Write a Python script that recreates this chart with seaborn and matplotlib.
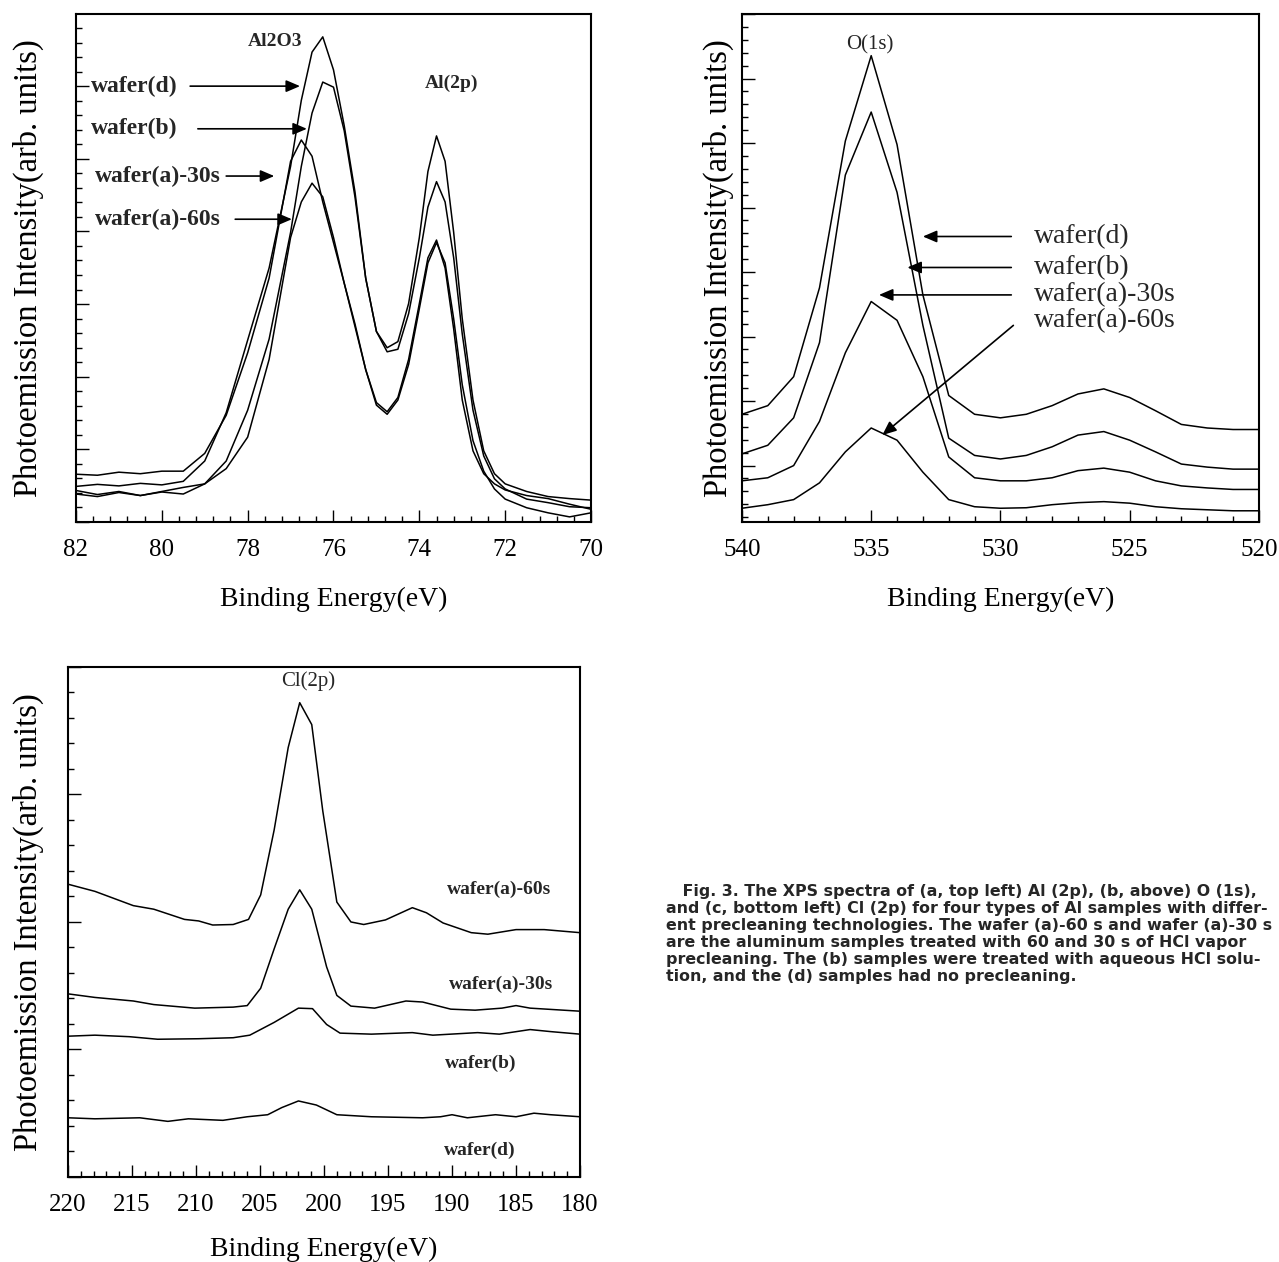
import numpy as np
import pandas as pd
import matplotlib
matplotlib.use("Agg")
import matplotlib.pyplot as plt
from matplotlib.ticker import MultipleLocator, AutoMinorLocator, FixedLocator
import seaborn as sns

# ---- (a) Al(2p) spectra, binding energy in eV, intensity in arb. units (0-100)
al_energy = [82.0, 81.5, 81.0, 80.5, 80.0, 79.5, 79.0, 78.5, 78.0, 77.5, 77.0, 76.75,
             76.5, 76.25, 76.0, 75.75, 75.5, 75.25, 75.0, 74.75, 74.5, 74.25, 74.0,
             73.8, 73.6, 73.4, 73.2, 73.0, 72.75, 72.5, 72.25, 72.0, 71.5, 71.0, 70.5, 70.0]
al_wafer_d = [7.0, 7.4, 7.1, 7.6, 7.3, 8.0, 12.0, 21.5, 35.8, 50, 70, 83,
              92.5, 95.5, 89, 78, 65, 48, 37.5, 34.3, 35.5, 43, 56,
              69, 76, 71, 57, 40, 24, 14, 9.5, 7.5, 6.0, 5.0, 4.6, 4.3]
al_wafer_b = [5.5, 5.0, 5.8, 5.2, 5.9, 5.5, 7.5, 12, 22, 36, 57, 70,
              80.5, 86.6, 85.6, 77, 64, 48, 37.5, 33.5, 34, 41, 52,
              62, 67, 63, 52, 37, 22, 13, 8.5, 6.5, 4.5, 3.8, 3.0, 2.8]
al_wafer_a30 = [9.4, 9.2, 9.8, 9.5, 10.0, 10.0, 13.5, 21, 33.3, 48, 71, 75.2,
                72, 63, 55, 47, 39, 30, 23.5, 21.7, 24.5, 32, 43,
                52, 55.5, 50, 38, 24, 14, 9.5, 7.5, 6.3, 5.2, 4.6, 3.5, 2.5]
al_wafer_a60 = [6.2, 5.4, 6.0, 5.2, 6.0, 6.8, 7.5, 10.5, 16.7, 32, 56, 63,
                66.7, 64, 56, 47, 38.5, 30, 23, 21.2, 24, 31, 42,
                51, 55, 51, 40, 27, 16, 10, 6.5, 4.5, 2.8, 1.8, 1.0, 1.8]

# ---- (b) O(1s) spectra
o_energy = [540, 539, 538, 537, 536, 535, 534, 533, 532, 531, 530,
            529, 528, 527, 526, 525, 524, 523, 522, 521, 520]
o_wafer_d = [21.2, 22.9, 28.6, 46.1, 75.0, 91.8, 74.3, 44.7, 24.9, 21.2, 20.5,
             21.2, 22.9, 25.2, 26.2, 24.5, 21.9, 19.2, 18.5, 18.2, 18.2]
o_wafer_b = [13.4, 15.1, 20.5, 35.3, 68.3, 80.7, 64.9, 38.7, 16.5, 13.1, 12.4,
             13.1, 14.8, 17.1, 17.8, 16.1, 13.8, 11.4, 10.8, 10.4, 10.4]
o_wafer_a30 = [8.1, 8.7, 11.1, 19.8, 33.3, 43.4, 39.7, 28.6, 12.8, 8.7, 8.1,
               8.1, 8.7, 10.1, 10.6, 9.8, 8.1, 7.1, 6.7, 6.4, 6.4]
o_wafer_a60 = [2.7, 3.4, 4.4, 7.7, 13.8, 18.5, 16.1, 9.8, 4.4, 3.0, 2.7,
               2.8, 3.4, 3.8, 4.0, 3.7, 3.0, 2.6, 2.4, 2.2, 2.2]

# ---- (c) Cl(2p) spectra
cl_a60_energy = [220, 217.9, 214.9, 213.3, 210.9, 209.8, 208.7, 207.1, 205.9, 204.95,
                 203.9, 202.8, 201.9, 200.96, 200.1, 199.0, 197.9, 196.9, 195.2,
                 193.1, 192.0, 190.7, 188.5, 187.2, 185.0, 182.8, 180]
cl_a60 = [57.4, 56.0, 53.2, 52.5, 50.5, 50.2, 49.4, 49.5, 50.5, 55.3,
          68.0, 84.2, 93.0, 88.7, 71.8, 53.9, 50.0, 49.5, 50.4,
          52.8, 51.8, 49.8, 47.9, 47.6, 48.5, 48.5, 47.9]
cl_a30_energy = [220, 217.9, 214.9, 213.3, 210.1, 207.1, 206.0, 204.95, 203.9, 202.8,
                 201.9, 200.96, 199.8, 199.0, 197.9, 196.05, 193.6, 192.3, 190.1,
                 188.2, 186.1, 185.0, 183.9, 180]
cl_a30 = [35.9, 35.2, 34.5, 33.8, 33.1, 33.3, 33.6, 37.0, 44.7, 52.5,
          56.3, 52.5, 41.2, 35.6, 33.5, 33.1, 34.5, 34.3, 32.9,
          32.7, 33.1, 33.6, 33.1, 32.5]
cl_b_energy = [220, 217.9, 215.2, 213.0, 209.8, 207.1, 205.8, 203.9, 202.0, 200.9,
               199.8, 198.75, 196.3, 193.1, 191.5, 188.0, 186.3, 183.9, 182.3, 180]
cl_b = [27.6, 27.8, 27.5, 27.0, 27.1, 27.3, 27.8, 30.3, 33.1, 33.0,
        29.9, 28.2, 28.0, 28.3, 27.8, 28.3, 28.0, 28.9, 28.5, 28.0]
cl_d_energy = [220, 217.9, 214.4, 212.2, 210.6, 207.9, 206.0, 204.4, 203.3, 202.0,
               200.6, 199.0, 196.3, 192.3, 190.9, 190.0, 188.8, 186.6, 185.0,
               183.6, 182.3, 180]
cl_d = [11.6, 11.4, 11.6, 10.9, 11.4, 11.1, 11.8, 12.2, 13.6, 14.9,
        14.1, 12.2, 11.8, 11.6, 11.8, 12.2, 11.6, 12.2, 11.8,
        12.5, 12.2, 11.8]

caption_lines = [
    "   Fig. 3. The XPS spectra of (a, top left) Al (2p), (b, above) O (1s),",
    "and (c, bottom left) Cl (2p) for four types of Al samples with differ-",
    "ent precleaning technologies. The wafer (a)-60 s and wafer (a)-30 s",
    "are the aluminum samples treated with 60 and 30 s of HCl vapor",
    "precleaning. The (b) samples were treated with aqueous HCl solu-",
    "tion, and the (d) samples had no precleaning.",
]


def long_table(curves):
    frames = []
    for name, (e, y) in curves.items():
        frames.append(pd.DataFrame({"energy": e, "intensity": y, "sample": name}))
    return pd.concat(frames, ignore_index=True)


df_al = long_table({
    "wafer(d)": (al_energy, al_wafer_d),
    "wafer(b)": (al_energy, al_wafer_b),
    "wafer(a)-30s": (al_energy, al_wafer_a30),
    "wafer(a)-60s": (al_energy, al_wafer_a60),
})
df_o = long_table({
    "wafer(d)": (o_energy, o_wafer_d),
    "wafer(b)": (o_energy, o_wafer_b),
    "wafer(a)-30s": (o_energy, o_wafer_a30),
    "wafer(a)-60s": (o_energy, o_wafer_a60),
})
df_cl = long_table({
    "wafer(a)-60s": (cl_a60_energy, cl_a60),
    "wafer(a)-30s": (cl_a30_energy, cl_a30),
    "wafer(b)": (cl_b_energy, cl_b),
    "wafer(d)": (cl_d_energy, cl_d),
})

sns.set_theme(style="ticks")
plt.rcParams['font.family'] = ['Liberation Serif', 'DejaVu Serif']

fig = plt.figure(figsize=(12.79, 12.62), dpi=100)
ax_a = fig.add_axes([0.0594, 0.5864, 0.4027, 0.4025])
ax_b = fig.add_axes([0.5801, 0.5864, 0.4042, 0.4025])
ax_c = fig.add_axes([0.0532, 0.0674, 0.4003, 0.4041])


def draw(ax, df, xlim, xmajor, ymajor):
    sns.lineplot(data=df, x="energy", y="intensity", units="sample",
                 estimator=None, sort=False, color="black", lw=1.1, ax=ax)
    ax.set_xlim(*xlim)
    ax.set_ylim(0, 100)
    ax.xaxis.set_major_locator(MultipleLocator(xmajor))
    ax.xaxis.set_minor_locator(AutoMinorLocator(5))
    ax.yaxis.set_major_locator(FixedLocator(ymajor))
    ax.yaxis.set_minor_locator(AutoMinorLocator(5))
    ax.tick_params(which="both", direction="in", top=False, right=False,
                   width=1.0, color="black")
    ax.tick_params(which="major", length=9)
    ax.tick_params(which="minor", length=4.5)
    ax.tick_params(axis="x", labelsize=18, pad=12, labelcolor="black")
    ax.set_yticklabels([])
    for s in ax.spines.values():
        s.set_color("black")
        s.set_linewidth(1.5)
    ax.set_xlabel("Binding Energy(eV)", fontsize=20, color="black")
    ax.set_ylabel("Photoemission Intensity(arb. units)", fontsize=23.5, color="black")


draw(ax_a, df_al, (82, 70), 2, np.arange(0, 100, 14.3))
draw(ax_b, df_o, (540, 520), 5, np.arange(11.1, 100, 12.7))
draw(ax_c, df_cl, (220, 180), 5, np.arange(0, 101, 25))

ax_a.xaxis.set_label_coords(0.5, -0.128)
ax_b.xaxis.set_label_coords(0.5, -0.128)
ax_c.xaxis.set_label_coords(0.5, -0.118)
ax_a.yaxis.set_label_coords(-0.062, 0.5)
ax_b.yaxis.set_label_coords(-0.015, 0.5)
ax_c.yaxis.set_label_coords(-0.047, 0.5)

arrow = dict(arrowstyle="-|>,head_length=0.7,head_width=0.3", color="black",
             lw=1.2, shrinkA=0, shrinkB=0)

# panel (a) labels
ax_a.text(77.36, 94.5, "Al2O3", fontsize=14, fontweight="bold", ha="center", va="center")
ax_a.text(73.24, 86.4, "Al(2p)", fontsize=14, fontweight="bold", ha="center", va="center")
a_labels = [("wafer(d)", 81.65, 85.8, 79.34, 76.78),
            ("wafer(b)", 81.65, 77.4, 79.16, 76.62),
            ("wafer(a)-30s", 81.56, 68.1, 78.50, 77.38),
            ("wafer(a)-60s", 81.56, 59.6, 78.29, 76.97)]
for txt, tx, ty, x0, x1 in a_labels:
    ax_a.text(tx, ty, txt, fontsize=17, fontweight="bold", ha="left", va="center")
    ax_a.annotate("", xy=(x1, ty), xytext=(x0, ty), arrowprops=arrow)

# panel (b) labels
ax_b.text(535.05, 94, "O(1s)", fontsize=15, ha="center", va="center")
b_labels = [("wafer(d)", 56.2, (533.0, 56.2), (529.58, 56.2)),
            ("wafer(b)", 50.1, (533.6, 50.1), (529.58, 50.1)),
            ("wafer(a)-30s", 44.7, (534.7, 44.7), (529.58, 44.7)),
            ("wafer(a)-60s", 39.7, (534.57, 17.1), (529.5, 38.7))]
for txt, ty, head, tail in b_labels:
    ax_b.text(528.7, ty, txt, fontsize=20, ha="left", va="center")
    ax_b.annotate("", xy=head, xytext=tail, arrowprops=arrow)

# panel (c) labels
ax_c.text(201.2, 97.2, "Cl(2p)", fontsize=15, ha="center", va="center")
for txt, tx, ty in [("wafer(a)-60s", 186.3, 56.3), ("wafer(a)-30s", 186.2, 37.7),
                    ("wafer(b)", 187.8, 22.2), ("wafer(d)", 187.8, 5.3)]:
    ax_c.text(tx, ty, txt, fontsize=14, fontweight="bold", ha="center", va="center")

# caption
fig.text(666 / 1279, 1 - 884 / 1262, "\n".join(caption_lines),
         family=["DejaVu Sans"], fontsize=11.4, fontweight="bold",
         ha="left", va="top", linespacing=1.16)

fig.savefig("out.png", dpi=100)
